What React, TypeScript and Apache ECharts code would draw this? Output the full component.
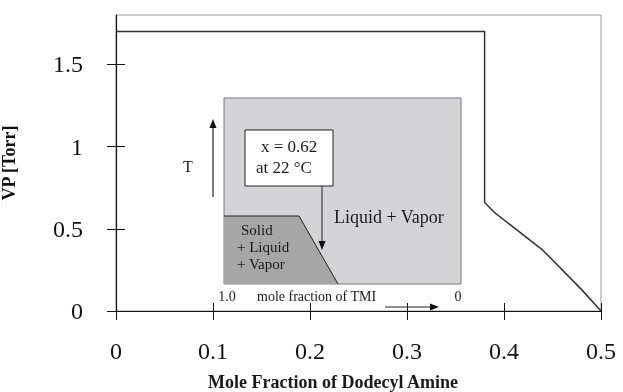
import React, { useEffect, useRef } from "react";
import * as echarts from "echarts";

// Data
const moleFraction = [0, 0.38, 0.38, 0.39, 0.44, 0.48, 0.5];
const vaporPressure = [1.7, 1.7, 0.66, 0.6, 0.37, 0.13, 0];
const xTickValues = [0, 0.1, 0.2, 0.3, 0.4, 0.5];
const yTickValues = [0, 0.5, 1, 1.5];
const xRange = [0, 0.5];
const yRange = [0, 1.8];
const xTitle = "Mole Fraction of Dodecyl Amine";
const yTitle = "VP [Torr]";

const FONT = "'Liberation Serif', 'Times New Roman', serif";

function arrowHead(tipX: number, tipY: number, dir: "up" | "down" | "right") {
  const L = 9, W = 3.5;
  let pts: number[][];
  if (dir === "up") pts = [[tipX, tipY], [tipX - W, tipY + L], [tipX + W, tipY + L]];
  else if (dir === "down") pts = [[tipX, tipY], [tipX - W, tipY - L], [tipX + W, tipY - L]];
  else pts = [[tipX, tipY], [tipX - L, tipY - W], [tipX - L, tipY + W]];
  return { type: "polygon", shape: { points: pts }, style: { fill: "#111" }, z: 20 };
}

function txt(text: string, x: number, y: number, size: number, align = "left", weight = "normal") {
  return {
    type: "text",
    x,
    y,
    z: 20,
    style: {
      text,
      font: `${weight} ${size}px ${FONT}`,
      fill: "#1a1a1a",
      textAlign: align,
      textVerticalAlign: "middle",
    },
  };
}

export default function App() {
  const ref = useRef<HTMLDivElement>(null);
  useEffect(() => {
    const chart = echarts.init(ref.current!, null, { renderer: "svg" });
    const axisFont = { fontFamily: FONT, fontSize: 24, color: "#111" };
    const graphic: any[] = [
      // inset background
      {
        type: "rect",
        shape: { x: 224, y: 98, width: 237, height: 186 },
        style: { fill: "#d4d4d6", stroke: "#7a7a7a", lineWidth: 1 },
        z: 10,
      },
      {
        type: "polygon",
        shape: { points: [[224, 216], [299, 216], [338, 284], [224, 284]] },
        style: { fill: "#a6a6a6" },
        z: 11,
      },
      {
        type: "polyline",
        shape: { points: [[224, 216], [299, 216], [338, 284]] },
        style: { stroke: "#222", lineWidth: 1, fill: null },
        z: 12,
      },
      // white label box
      {
        type: "rect",
        shape: { x: 245, y: 130, width: 88, height: 56 },
        style: { fill: "#fff", stroke: "#222", lineWidth: 1 },
        z: 13,
      },
      txt("x = 0.62", 261, 146, 17),
      txt("at 22 \u00b0C", 256, 167, 17),
      // down arrow
      { type: "line", shape: { x1: 322, y1: 186, x2: 322, y2: 242 }, style: { stroke: "#222", lineWidth: 1 }, z: 20 },
      arrowHead(322, 250, "down"),
      txt("Liquid + Vapor", 334, 217, 18),
      txt("Solid", 241, 230, 15),
      txt("+ Liquid", 237, 247, 15),
      txt("+ Vapor", 237, 264, 15),
      // T arrow
      { type: "line", shape: { x1: 213, y1: 197, x2: 213, y2: 127 }, style: { stroke: "#222", lineWidth: 1.2 }, z: 20 },
      arrowHead(213, 119, "up"),
      txt("T", 188, 166, 16, "center"),
      // inset bottom axis
      txt("1.0", 227, 296, 14, "center"),
      txt("mole fraction of TMI", 257, 296, 14),
      txt("0", 458, 296, 14, "center"),
      { type: "line", shape: { x1: 385, y1: 307, x2: 431, y2: 307 }, style: { stroke: "#222", lineWidth: 1.2 }, z: 20 },
      arrowHead(439, 307, "right"),
      // x axis title
      txt(xTitle, 333, 382, 18, "center", "bold"),
    ];

    const baseX = {
      type: "value",
      min: xRange[0],
      max: xRange[1],
      interval: 0.1,
      splitLine: { show: false },
    };
    const baseY = {
      type: "value",
      min: yRange[0],
      max: yRange[1],
      interval: 0.5,
      splitLine: { show: false },
    };

    chart.setOption({
      animation: false,
      grid: {
        left: 116,
        right: 623 - 601,
        top: 15,
        bottom: 392 - 311,
        containLabel: false,
        outerBoundsMode: "none",
        show: true,
        borderColor: "#9a9a9a",
        borderWidth: 1,
        backgroundColor: "transparent",
      },
      xAxis: [
        {
          ...baseX,
          position: "bottom",
          axisLine: { show: true, onZero: false, lineStyle: { color: "#111", width: 1.2 } },
          axisTick: { show: true, length: 9, lineStyle: { color: "#111" }, customValues: xTickValues },
          axisLabel: { ...axisFont, margin: 28, customValues: xTickValues },
        },
        {
          ...baseX,
          position: "bottom",
          axisLine: { show: false, onZero: false },
          axisTick: { show: true, inside: true, length: 8, lineStyle: { color: "#111" }, customValues: xTickValues },
          axisLabel: { show: false },
        },
      ],
      yAxis: [
        {
          ...baseY,
          position: "left",
          name: yTitle,
          nameLocation: "middle",
          nameGap: 98,
          nameTextStyle: { fontFamily: FONT, fontSize: 18, fontWeight: "bold", color: "#111" },
          axisLine: { show: true, onZero: false, lineStyle: { color: "#111", width: 1.2 } },
          axisTick: { show: true, length: 9, lineStyle: { color: "#111" }, customValues: yTickValues },
          axisLabel: { ...axisFont, margin: 33, customValues: yTickValues },
        },
        {
          ...baseY,
          position: "left",
          axisLine: { show: false, onZero: false },
          axisTick: { show: true, inside: true, length: 9, lineStyle: { color: "#111" }, customValues: yTickValues },
          axisLabel: { show: false },
        },
      ],
      series: [
        {
          type: "line",
          xAxisIndex: 0,
          yAxisIndex: 0,
          data: moleFraction.map((x, i) => [x, vaporPressure[i]]),
          symbol: "none",
          lineStyle: { color: "#333", width: 1.5 },
          z: 5,
        },
      ],
      graphic,
    });
    return () => chart.dispose();
  }, []);
  return <div ref={ref} style={{ position: "fixed", left: 0, top: 0, width: 623, height: 392 }} />;
}
